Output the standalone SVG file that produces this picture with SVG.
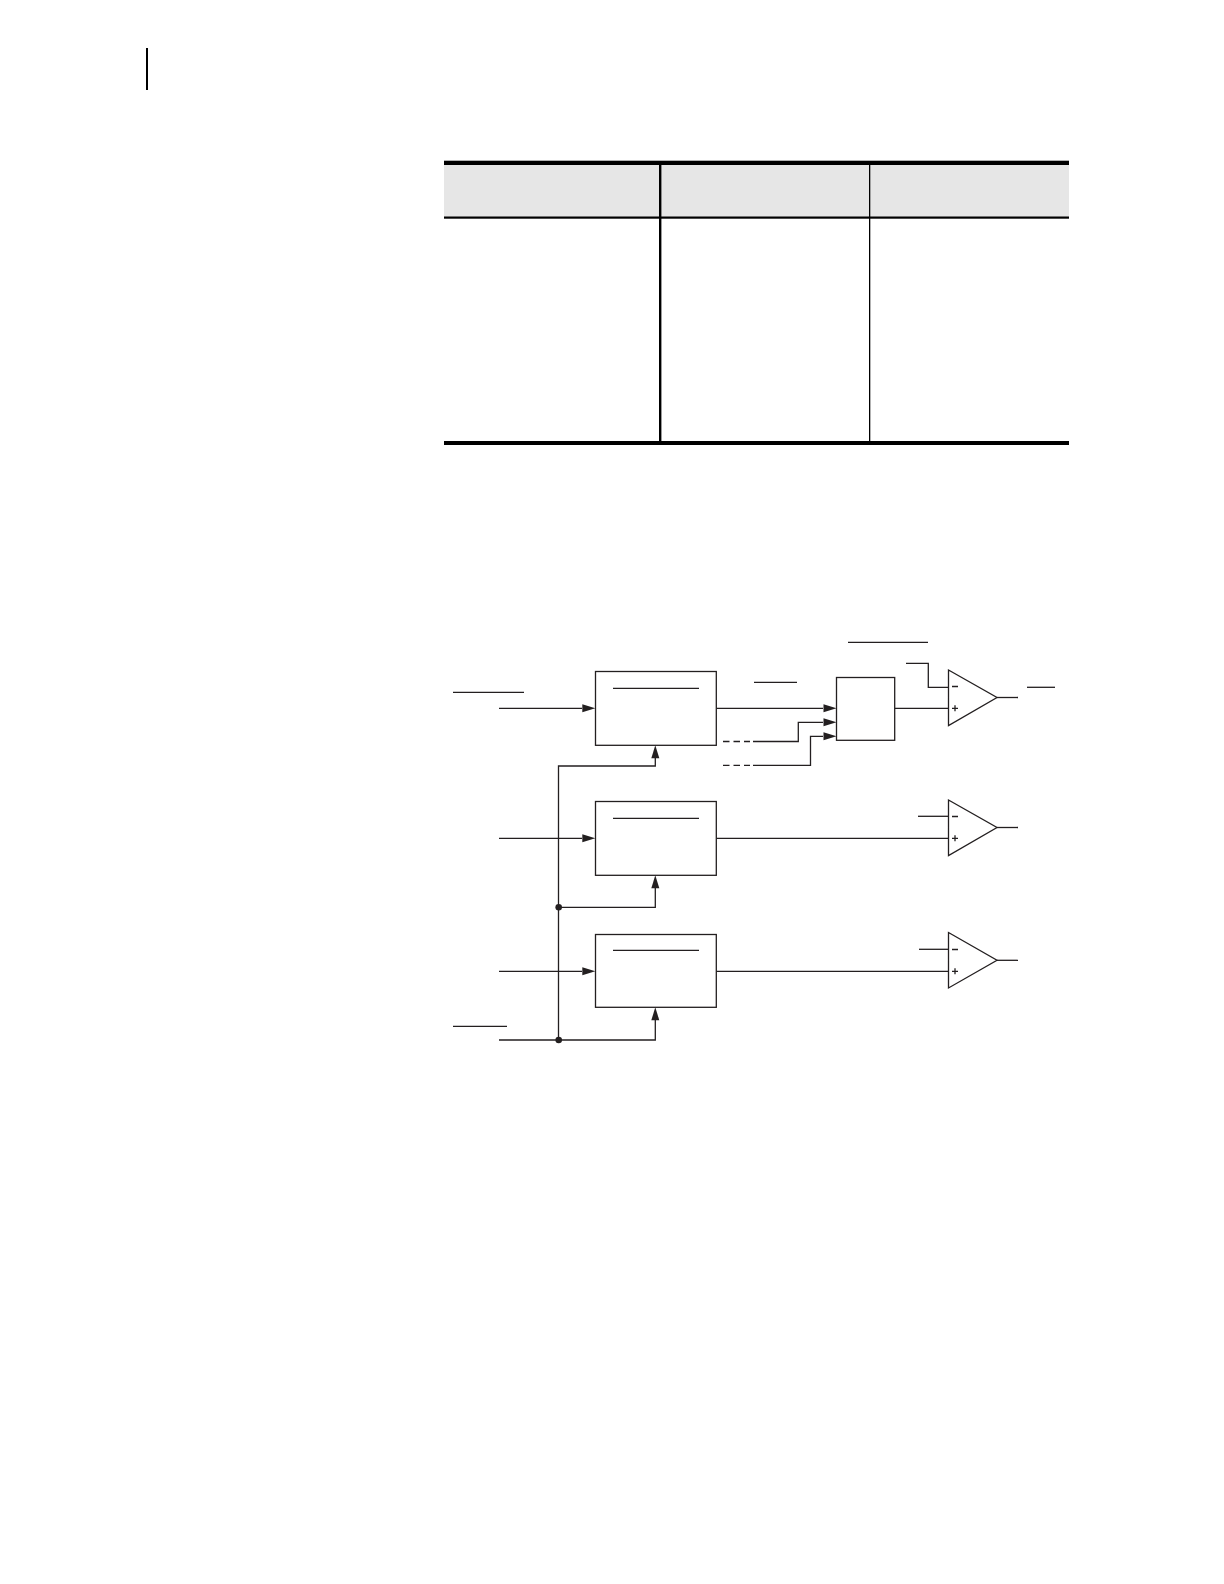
<svg xmlns="http://www.w3.org/2000/svg" width="1224" height="1584" viewBox="0 0 1224 1584">
<style>
.w{fill:none;stroke:#231f20;stroke-width:1.3}
.n{fill:#fff;stroke:#231f20;stroke-width:1.3}
.a{fill:#231f20}
.k{fill:#000}
</style>
<defs>
<path id="ar" class="a" d="M-13,-4 L0,0 L-13,4 Z"/>
<path id="au" class="a" d="M-4,13 L0,0 L4,13 Z"/>
</defs>
<rect width="1224" height="1584" fill="#fff"/>
<rect id="margin-bar" class="k" x="146" y="48" width="2" height="42"/>
<g id="table">
<rect x="444" y="165" width="625" height="52" fill="#e6e6e6"/>
<rect class="k" x="444" y="160.7" width="625" height="4.3"/>
<rect class="k" x="444" y="216.5" width="625" height="2.2"/>
<rect class="k" x="444" y="441" width="625" height="4"/>
<rect class="k" x="659" y="161" width="2.4" height="284"/>
<rect class="k" x="869" y="161" width="1.3" height="284"/>
</g>
<g id="connectors">
<path class="w" d="M499,708.3H582"/>
<path class="w" d="M499,838.3H582"/>
<path class="w" d="M499,971.3H582"/>
<path class="w" d="M499,1040H655.3V1020"/>
<path class="w" d="M558.5,1040V766H655.3V758"/>
<path class="w" d="M558.5,907.3H655.3V888"/>
<path class="w" d="M716.3,708.3H823"/>
<path class="w" d="M723,741.5H750" stroke-dasharray="6.5 4"/>
<path class="w" d="M723,765.3H750" stroke-dasharray="6.5 4"/>
<path class="w" d="M753,741.5H798.3V722.3H823"/>
<path class="w" d="M753,765.3H810.5V736.3H823"/>
<path class="w" d="M894.7,708.3H948.5"/>
<path class="w" d="M906,663.3H928.3V687.3H948.5"/>
<path class="w" d="M997,697.5H1018"/>
<path class="w" d="M716.3,838.3H948.5"/>
<path class="w" d="M918,816.3H948.5"/>
<path class="w" d="M997,827.5H1018"/>
<path class="w" d="M716.3,971.3H948.5"/>
<path class="w" d="M919,949.3H948.5"/>
<path class="w" d="M997,960.3H1018"/>
<use href="#ar" x="595.3" y="708.3"/>
<use href="#ar" x="595.3" y="838.3"/>
<use href="#ar" x="595.3" y="971.3"/>
<use href="#ar" x="836.5" y="708.3"/>
<use href="#ar" x="836.5" y="722.3"/>
<use href="#ar" x="836.5" y="736.3"/>
<use href="#au" x="655.3" y="745.3"/>
<use href="#au" x="655.3" y="875.3"/>
<use href="#au" x="655.3" y="1007.3"/>
<circle class="a" cx="558.7" cy="907.3" r="3.3"/>
<circle class="a" cx="558.7" cy="1040" r="3.3"/>
</g>
<g id="label-rules">
<path class="w" d="M453,692.3H524"/>
<path class="w" d="M453,1026.3H507"/>
<path class="w" d="M754,682.3H797"/>
<path class="w" d="M848,642.3H928"/>
<path class="w" d="M1027,687.3H1055"/>
</g>
<g id="block1"><rect class="n" x="595.5" y="671.5" width="120.8" height="73.8"/><path class="w" d="M613,688.3H699"/></g>
<g id="block2"><rect class="n" x="595.5" y="801.5" width="120.8" height="73.8"/><path class="w" d="M613,818.3H699"/></g>
<g id="block3"><rect class="n" x="595.5" y="934.5" width="120.8" height="72.8"/><path class="w" d="M613,950.3H699"/></g>
<g id="mux"><rect class="n" x="836.5" y="677.5" width="58.2" height="62.8"/></g>
<g id="comp1"><path class="n" d="M948.5,670L997,697.5L948.5,725.5Z"/><path class="w" d="M952,686.5H958M952,708.3H958M955,705.3V711.3"/></g>
<g id="comp2"><path class="n" d="M948.5,800L997,827.5L948.5,855.5Z"/><path class="w" d="M952,816.5H958M952,838.3H958M955,835.3V841.3"/></g>
<g id="comp3"><path class="n" d="M948.5,932.5L997,960.3L948.5,988Z"/><path class="w" d="M952,949.5H958M952,971.3H958M955,968.3V974.3"/></g>
</svg>
